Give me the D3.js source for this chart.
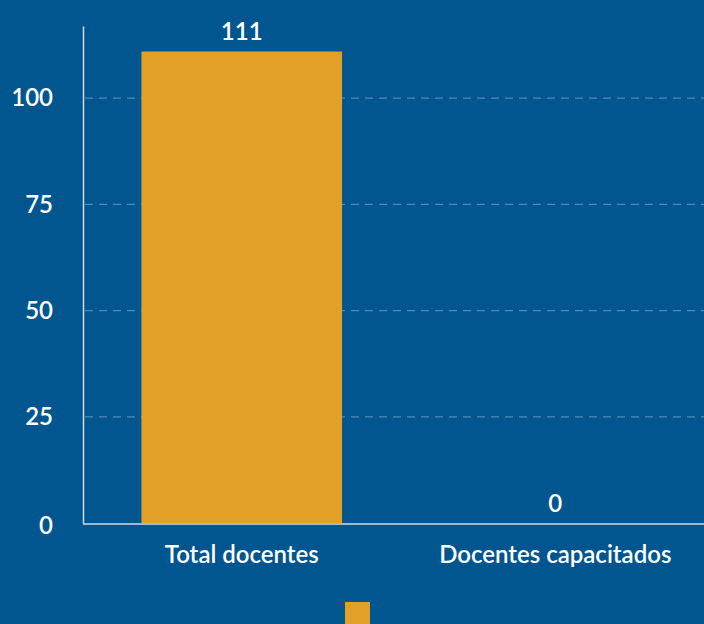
<!DOCTYPE html>
<html>
<head>
<meta charset="utf-8">
<script src="https://cdn.jsdelivr.net/npm/d3@7"></script>
<style>
  html, body { margin: 0; padding: 0; background: #01568f; }
  svg { display: block; font-family: Lato, sans-serif; }
</style>
</head>
<body>
<svg id="chart"></svg>
<script>
const categories = ["Total docentes", "Docentes capacitados"];
const values = [111, 0];
const yTicks = [0, 25, 50, 75, 100];

const width = 704;
const height = 624;
const margin = { top: 26, right: -8, bottom: 101, left: 85 };
const fontSize = 24;
const fontWeight = 600;

const svg = d3
  .select("#chart")
  .attr("width", width)
  .attr("height", height);

svg
  .append("rect")
  .attr("width", width)
  .attr("height", height)
  .attr("fill", "#01568f");

const x = d3
  .scaleBand()
  .domain(categories)
  .range([margin.left, width - margin.right])
  .paddingInner(0.36)
  .paddingOuter(0.18);

const y = d3
  .scaleLinear()
  .domain([0, 117])
  .range([height - margin.bottom, margin.top]);

// grid
svg
  .append("g")
  .selectAll("line")
  .data(yTicks.filter((t) => t > 0))
  .join("line")
  .attr("x1", margin.left)
  .attr("x2", width)
  .attr("y1", (d) => y(d))
  .attr("y2", (d) => y(d))
  .attr("stroke", "#5289b8")
  .attr("stroke-width", 1.3)
  .attr("stroke-dasharray", "8,6");

// bars
svg
  .append("g")
  .selectAll("rect")
  .data(values)
  .join("rect")
  .attr("x", (d, i) => x(categories[i]))
  .attr("width", x.bandwidth())
  .attr("y", (d) => y(d))
  .attr("height", (d) => y(0) - y(d))
  .attr("fill", "#e3a027");

// value labels
svg
  .append("g")
  .selectAll("text")
  .data(values)
  .join("text")
  .attr("x", (d, i) => x(categories[i]) + x.bandwidth() / 2)
  .attr("y", (d) => y(d) - 11)
  .attr("text-anchor", "middle")
  .attr("fill", "#ffffff")
  .attr("font-size", fontSize)
  .attr("font-weight", fontWeight)
  .text((d) => d);

// axes
const yAxis = svg
  .append("g")
  .attr("transform", `translate(${margin.left - 2},0)`)
  .call(d3.axisLeft(y).tickValues(yTicks).tickSize(0).tickPadding(30));
yAxis.select(".domain").attr("stroke", "#d0dde9").attr("stroke-width", 1.5);
yAxis.selectAll("text")
  .attr("fill", "#ffffff")
  .attr("font-size", fontSize)
  .attr("font-weight", fontWeight)
  .attr("font-family", "Lato, sans-serif");
yAxis.selectAll(".tick")
  .filter((d) => d === 0)
  .select("text")
  .attr("dy", "0.45em");

const xAxis = svg
  .append("g")
  .attr("transform", `translate(0,${y(0) + 1})`)
  .call(d3.axisBottom(x).tickSize(0).tickPadding(22));
xAxis.select(".domain").attr("stroke", "#d0dde9").attr("stroke-width", 1.5)
  .attr("d", `M${margin.left - 2},0H${width}`);
xAxis.selectAll("text")
  .attr("fill", "#ffffff")
  .attr("font-size", fontSize)
  .attr("font-weight", fontWeight)
  .attr("font-family", "Lato, sans-serif");

// legend
svg
  .append("rect")
  .attr("x", 345)
  .attr("y", 602)
  .attr("width", 25)
  .attr("height", 25)
  .attr("fill", "#e3a027");
</script>
</body>
</html>
